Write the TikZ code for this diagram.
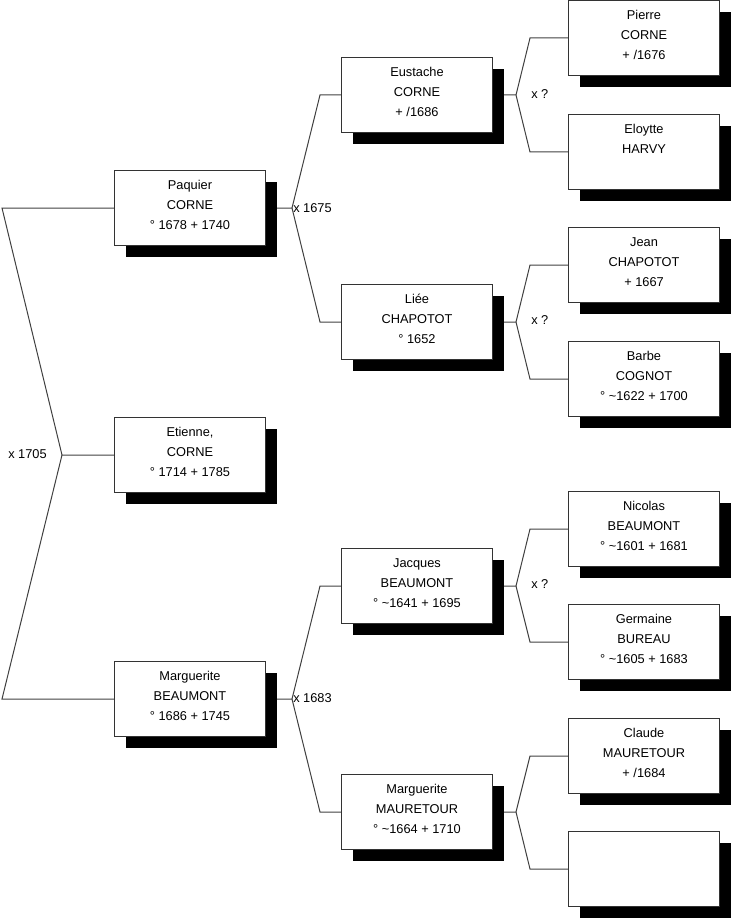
\documentclass[tikz,border=0pt]{standalone}
\usepackage{fontspec}
\setmainfont{Liberation Sans}
\usetikzlibrary{calc,shadows,backgrounds}

\tikzset{
  person/.style={draw=black!80,fill=white,line width=0.75pt,anchor=north west,
    minimum width=113.25pt,minimum height=56.25pt,inner sep=0pt,align=center,
    font=\fontsize{9.6}{15}\selectfont,
    execute at begin node=\rule{0pt}{13.5pt},execute at end node=\strut,
    drop shadow={shadow xshift=8.6pt,shadow yshift=-8.6pt,fill=black,opacity=1}},
  link/.style={draw=black!75,line width=0.75pt},
  union/.style={anchor=west,inner sep=0pt,font=\fontsize{9.6}{15}\selectfont},
}

% child, father, mother, junction x, bend x
\newcommand\couple[5]{%
  \coordinate (#1-j) at (#4,0 |- #1.east);
  \draw[link] (#1.east) -- (#1-j) -- (#5,0 |- #2.west) -- (#2.west);
  \draw[link] (#1-j) -- (#5,0 |- #3.west) -- (#3.west);
}

\begin{document}
\begin{tikzpicture}[x=0.75pt,y=-0.75pt]
\useasboundingbox (0,0) rectangle (731,920);

% generation 1
\node[person] (paquier)     at (114,170) {Paquier\\CORNE\\° 1678 + 1740};
\node[person] (etienne)     at (114,417) {Etienne,\\CORNE\\° 1714 + 1785};
\node[person] (margueriteb) at (114,661) {Marguerite\\BEAUMONT\\° 1686 + 1745};

% generation 2
\node[person] (eustache)    at (341,57)  {Eustache\\CORNE\\+ /1686};
\node[person] (liee)        at (341,284) {Liée\\CHAPOTOT\\° 1652};
\node[person] (jacques)     at (341,548) {Jacques\\BEAUMONT\\° \textasciitilde1641 + 1695};
\node[person] (margueritem) at (341,774) {Marguerite\\MAURETOUR\\° \textasciitilde1664 + 1710};

% generation 3
\node[person] (pierre)      at (568,0)   {Pierre\\CORNE\\+ /1676};
\node[person] (eloytte)     at (568,114) {Eloytte\\HARVY\\\strut};
\node[person] (jean)        at (568,227) {Jean\\CHAPOTOT\\+ 1667};
\node[person] (barbe)       at (568,341) {Barbe\\COGNOT\\° \textasciitilde1622 + 1700};
\node[person] (nicolas)     at (568,491) {Nicolas\\BEAUMONT\\° \textasciitilde1601 + 1681};
\node[person] (germaine)    at (568,604) {Germaine\\BUREAU\\° \textasciitilde1605 + 1683};
\node[person] (claude)      at (568,718) {Claude\\MAURETOUR\\+ /1684};
\node[person] (unknown)     at (568,831) {};

\begin{scope}[on background layer]
  \coordinate (etienne-j) at (62,0 |- etienne.west);
  \draw[link] (etienne.west) -- (etienne-j) -- (2,0 |- paquier.west) -- (paquier.west);
  \draw[link] (etienne-j) -- (2,0 |- margueriteb.west) -- (margueriteb.west);
  \couple{paquier}{eustache}{liee}{292}{320}
  \couple{margueriteb}{jacques}{margueritem}{292}{320}
  \couple{eustache}{pierre}{eloytte}{516}{530}
  \couple{liee}{jean}{barbe}{516}{530}
  \couple{jacques}{nicolas}{germaine}{516}{530}
  \couple{margueritem}{claude}{unknown}{516}{530}
\end{scope}

% marriages
\node[union] (m-etienne)  at (8,454)   {x 1705};
\node[union] (m-paquier)  at (293,208) {x 1675};
\node[union] (m-marg)     at (293,698) {x 1683};
\node[union] (m-eustache) at (531,94)  {x ?};
\node[union] (m-liee)     at (531,320) {x ?};
\node[union] (m-jacques)  at (531,584) {x ?};
\end{tikzpicture}
\end{document}
